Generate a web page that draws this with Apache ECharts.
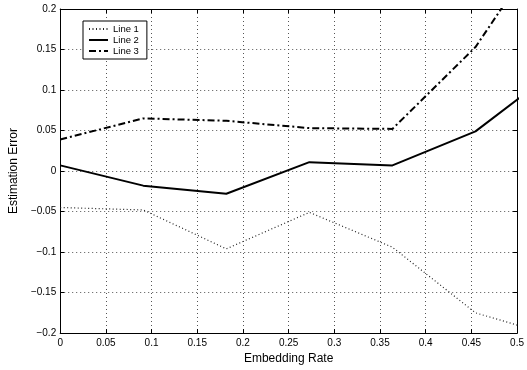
<!DOCTYPE html>
<html><head><meta charset="utf-8">
<script src="https://cdn.jsdelivr.net/npm/echarts@6/dist/echarts.min.js"></script>
<style>html,body{margin:0;padding:0;background:#fff}#c{width:527px;height:370px}</style>
</head><body><div id="c"></div>
<script>
const xValues = [0, 0.0909, 0.1818, 0.2727, 0.3636, 0.4545, 0.5454];
const line1 = [-0.045, -0.048, -0.096, -0.051, -0.094, -0.175, -0.205];
const line2 = [0.007, -0.018, -0.028, 0.011, 0.007, 0.049, 0.127];
const line3 = [0.039, 0.065, 0.062, 0.053, 0.052, 0.153, 0.305];
const seriesNames = ['Line 1', 'Line 2', 'Line 3'];
const xTitle = 'Embedding Rate';
const yTitle = 'Estimation Error';

const font = 'Liberation Sans, Arial, Helvetica, sans-serif';
const pair = arr => xValues.map((x, i) => [x, arr[i]]);
const fmt = v => {
  let s = String(Math.round(v * 1000) / 1000);
  return s.replace('-', '\u2212');
};
const gridDash = { type: [1, 3], color: '#555', width: 1 };
const baseX = {
  type: 'value', min: 0, max: 0.5, interval: 0.05,
  axisLine: { show: true, onZero: false, lineStyle: { color: '#000', width: 1 } },
  axisTick: { show: true, inside: true, length: 4, lineStyle: { color: '#000' } },
};
const baseY = {
  type: 'value', min: -0.2, max: 0.2, interval: 0.05,
  axisLine: { show: true, onZero: false, lineStyle: { color: '#000', width: 1 } },
  axisTick: { show: true, inside: true, length: 4, lineStyle: { color: '#000' } },
};
const option = {
  animation: false,
  backgroundColor: '#fff',
  grid: { left: 59, right: 4, top: 9, bottom: 31, containLabel: false },
  legend: {
    orient: 'vertical', left: 83, top: 21,
    data: seriesNames,
    backgroundColor: '#fff', borderColor: '#000', borderWidth: 1,
    padding: [3, 8, 3, 5], itemGap: 1, itemWidth: 19, itemHeight: 9,
    itemStyle: { opacity: 0 },
    textStyle: { fontFamily: font, fontSize: 9.5, color: '#000' }
  },
  xAxis: [
    Object.assign({}, baseX, {
      position: 'bottom',
      name: xTitle, nameLocation: 'middle', nameGap: 19,
      nameTextStyle: { fontFamily: font, fontSize: 12, color: '#000' },
      axisLabel: { fontFamily: font, fontSize: 10, color: '#000', margin: 5, formatter: fmt },
      splitLine: { show: true, lineStyle: gridDash }
    }),
    Object.assign({}, baseX, {
      position: 'top', axisLabel: { show: false }, splitLine: { show: false }
    })
  ],
  yAxis: [
    Object.assign({}, baseY, {
      position: 'left',
      name: yTitle, nameLocation: 'middle', nameGap: 40,
      nameTextStyle: { fontFamily: font, fontSize: 12, color: '#000' },
      axisLabel: { fontFamily: font, fontSize: 10, color: '#000', margin: 4, formatter: fmt },
      splitLine: { show: true, lineStyle: gridDash }
    }),
    Object.assign({}, baseY, {
      position: 'right', axisLabel: { show: false }, splitLine: { show: false }
    })
  ],
  series: [
    { name: seriesNames[0], type: 'line', data: pair(line1), symbol: 'none', clip: true,
      lineStyle: { color: '#222', width: 1.2, type: [1, 2.5] }, itemStyle: { color: '#222' } },
    { name: seriesNames[1], type: 'line', data: pair(line2), symbol: 'none', clip: true,
      lineStyle: { color: '#000', width: 2, type: 'solid' }, itemStyle: { color: '#000' } },
    { name: seriesNames[2], type: 'line', data: pair(line3), symbol: 'none', clip: true,
      lineStyle: { color: '#000', width: 2, type: [7, 3, 2, 3] }, itemStyle: { color: '#000' } }
  ]
};
const chart = echarts.init(document.getElementById('c'), null, { renderer: 'canvas' });
chart.setOption(option);
</script></body></html>
